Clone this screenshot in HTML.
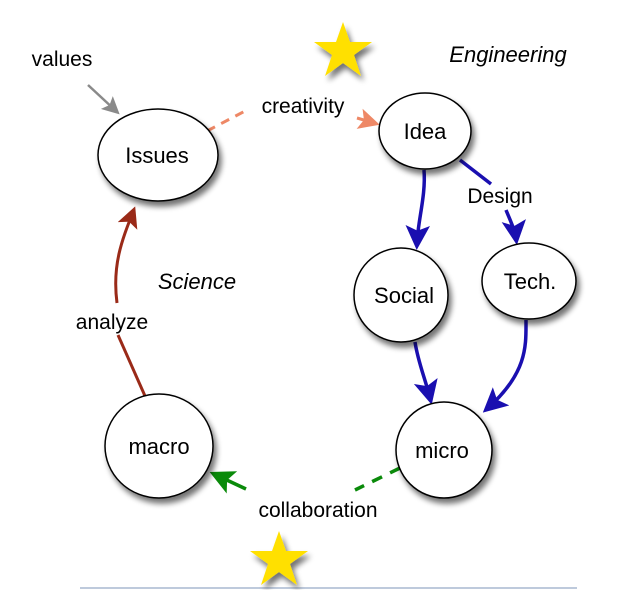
<!DOCTYPE html>
<html><head><meta charset="utf-8"><style>
html,body{margin:0;padding:0;background:#fff;}
svg{display:block;font-family:"Liberation Sans",sans-serif;}
</style></head><body>
<svg width="640" height="590" viewBox="0 0 640 590" xmlns="http://www.w3.org/2000/svg">
<defs>
<filter id="sh" x="-30%" y="-30%" width="170%" height="170%">
<feGaussianBlur in="SourceAlpha" stdDeviation="3"/>
<feOffset dx="3" dy="5" result="b"/>
<feComponentTransfer><feFuncA type="linear" slope="0.55"/></feComponentTransfer>
<feMerge><feMergeNode/><feMergeNode in="SourceGraphic"/></feMerge>
</filter>
<marker id="ab" markerWidth="7" markerHeight="7" refX="5" refY="3.5" orient="auto" markerUnits="strokeWidth"><path d="M0,0 L7,3.5 L0,7 L1.5,3.5z" fill="#1a0fb0"/></marker>
<marker id="ag" markerWidth="7" markerHeight="7" refX="5" refY="3.5" orient="auto" markerUnits="strokeWidth"><path d="M0,0 L7,3.5 L0,7 L1.5,3.5z" fill="#8a8a8a"/></marker>
<marker id="ao" markerWidth="7" markerHeight="7" refX="5" refY="3.5" orient="auto" markerUnits="strokeWidth"><path d="M0,0 L7,3.5 L0,7 L1.5,3.5z" fill="#ee8866"/></marker>
<marker id="agr" markerWidth="7" markerHeight="7" refX="5" refY="3.5" orient="auto" markerUnits="strokeWidth"><path d="M0,0 L7,3.5 L0,7 L1.5,3.5z" fill="#0a8a0a"/></marker>
<marker id="ar" markerWidth="7" markerHeight="7" refX="5" refY="3.5" orient="auto" markerUnits="strokeWidth"><path d="M0,0 L7,3.5 L0,7 L1.5,3.5z" fill="#9a2a18"/></marker>
</defs>
<line x1="80" y1="588" x2="577" y2="588" stroke="#a8b8d0" stroke-width="1.5"/>
<path d="M88,85 L116,111" stroke="#8a8a8a" stroke-width="2.5" fill="none" marker-end="url(#ag)"/>
<path d="M207,131 L247,110" stroke="#ee8866" stroke-width="3" stroke-dasharray="9,7" fill="none"/>
<path d="M357,118 L374,123" stroke="#ee8866" stroke-width="3" fill="none" marker-end="url(#ao)"/>
<path d="M424,170 C426,195 418,220 417,243" stroke="#1a0fb0" stroke-width="3.5" fill="none" marker-end="url(#ab)"/>
<path d="M460,160 L491,184" stroke="#1a0fb0" stroke-width="3.5" fill="none"/>
<path d="M506,210 C510,220 515,230 516,238" stroke="#1a0fb0" stroke-width="3.5" fill="none" marker-end="url(#ab)"/>
<path d="M415,342 C418,362 425,378 430,398" stroke="#1a0fb0" stroke-width="3.5" fill="none" marker-end="url(#ab)"/>
<path d="M526,320 C526,345 528,372 488,408" stroke="#1a0fb0" stroke-width="3.5" fill="none" marker-end="url(#ab)"/>
<path d="M400,468 L355,490" stroke="#0a8a0a" stroke-width="3.5" stroke-dasharray="11,9" fill="none"/>
<path d="M246,489 L216,475" stroke="#0a8a0a" stroke-width="3.5" fill="none" marker-end="url(#agr)"/>
<path d="M145,396 L118,335" stroke="#9a2a18" stroke-width="3" fill="none"/>
<path d="M117,303 C112,265 122,240 133,212" stroke="#9a2a18" stroke-width="3" fill="none" marker-end="url(#ar)"/>
<g fill="#fff" stroke="#000" stroke-width="1.5" filter="url(#sh)">
<ellipse cx="158" cy="155" rx="60" ry="46"/>
<ellipse cx="425" cy="131" rx="46" ry="38"/>
<ellipse cx="401" cy="295" rx="47" ry="47"/>
<ellipse cx="529" cy="281" rx="47" ry="38"/>
<ellipse cx="159" cy="446" rx="54" ry="52"/>
<ellipse cx="444" cy="450" rx="48" ry="48"/>
</g>
<g fill="#ffe000" filter="url(#sh)">
<polygon points="343,22 350,42 372,42 354,55 361,76 343,63 325,76 332,55 314,42 336,42"/>
<polygon points="279,531 286,551 308,551 290,564 297,585 279,572 261,585 268,564 250,551 272,551"/>
</g>
<g font-size="22" fill="#000" text-anchor="middle">
<text x="157" y="163">Issues</text>
<text x="425" y="139">Idea</text>
<text x="404" y="303">Social</text>
<text x="530" y="289">Tech.</text>
<text x="159" y="454">macro</text>
<text x="442" y="458">micro</text>
<text x="62" y="66" font-size="21">values</text>
<text x="303" y="113" font-size="21">creativity</text>
<text x="500" y="203" font-size="21">Design</text>
<text x="112" y="329" font-size="21">analyze</text>
<text x="318" y="517" font-size="21">collaboration</text>
<text x="508" y="62" font-style="italic">Engineering</text>
<text x="197" y="289" font-style="italic">Science</text>
</g>
</svg>
</body></html>
